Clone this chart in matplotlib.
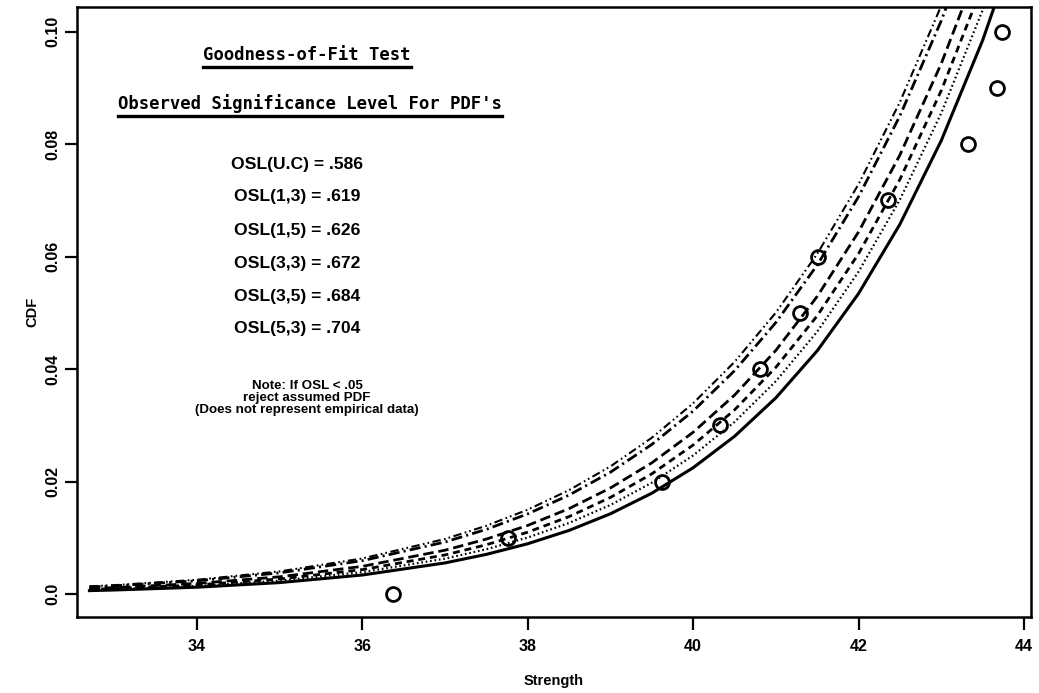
import matplotlib
matplotlib.use("Agg")
import matplotlib.pyplot as plt
from matplotlib.lines import Line2D

plt.rcParams["font.family"] = ["Liberation Sans", "DejaVu Sans"]
plt.rcParams["lines.scale_dashes"] = False

# Strength grid on which the fitted CDFs are tabulated
strength = [32.7, 33.0, 34.0, 35.0, 36.0, 37.0, 37.5, 38.0, 38.5, 39.0,
            39.5, 40.0, 40.5, 41.0, 41.5, 42.0, 42.5, 43.0, 43.5, 44.0]

# Fitted CDF curves (one per assumed PDF)
cdf_dashdotdot = [0.00135, 0.00156, 0.00252, 0.00401, 0.00631, 0.00978, 0.01213,
                  0.01499, 0.01847, 0.02269, 0.02778, 0.03391, 0.04126, 0.05004,
                  0.06049, 0.07288, 0.08749, 0.10463, 0.12465, 0.1479]
cdf_dashdot = [0.00124, 0.00144, 0.00234, 0.00375, 0.00592, 0.00924, 0.01149,
               0.01424, 0.01759, 0.02166, 0.02659, 0.03254, 0.03970, 0.04828,
               0.05850, 0.07066, 0.08504, 0.10196, 0.12177, 0.1448]
cdf_longdash = [0.00097, 0.00113, 0.00187, 0.00305, 0.00491, 0.00778, 0.00976,
                0.01219, 0.01518, 0.01885, 0.02332, 0.02876, 0.03536, 0.04333,
                0.05292, 0.06440, 0.07808, 0.09433, 0.11347, 0.13594]
cdf_dash = [0.00082, 0.00096, 0.00161, 0.00266, 0.00433, 0.00694, 0.00875,
            0.01099, 0.01376, 0.01717, 0.02136, 0.02649, 0.03273, 0.04031,
            0.04948, 0.06052, 0.07374, 0.08954, 0.10823, 0.13030]
cdf_dotted = [0.00071, 0.00084, 0.00142, 0.00236, 0.00388, 0.00628, 0.00795,
              0.01004, 0.01263, 0.01583, 0.01978, 0.02464, 0.03058, 0.03784,
              0.04665, 0.05732, 0.07015, 0.08553, 0.10384, 0.12555]
cdf_solid = [0.00059, 0.00070, 0.00120, 0.00202, 0.00337, 0.00552, 0.00704,
             0.00893, 0.01130, 0.01426, 0.01792, 0.02245, 0.02803, 0.03488,
             0.04325, 0.05343, 0.06576, 0.08064, 0.09846, 0.11967]

# Observed data points
obs_strength = [36.37, 37.76, 39.62, 40.32, 40.81, 41.29, 41.51, 42.36, 43.32, 43.67, 43.73]
obs_cdf = [0.00, 0.01, 0.02, 0.03, 0.04, 0.05, 0.06, 0.07, 0.08, 0.09, 0.10]

x_ticks = [34, 36, 38, 40, 42, 44]
y_ticks = [0.0, 0.02, 0.04, 0.06, 0.08, 0.10]
y_tick_labels = ["0.0", "0.02", "0.04", "0.06", "0.08", "0.10"]

osl_lines = ["OSL(U.C) = .586", "OSL(1,3) = .619", "OSL(1,5) = .626",
             "OSL(3,3) = .672", "OSL(3,5) = .684", "OSL(5,3) = .704"]
note_lines = ["Note: If OSL < .05", "reject assumed PDF",
              "(Does not represent empirical data)"]

W, H = 1039, 693
fig = plt.figure(figsize=(W / 100, H / 100), dpi=100)
ax = fig.add_axes([77 / W, 1 - 617 / H, (1031 - 77) / W, (617 - 7) / H])

curves = [
    (cdf_dashdotdot, (0, (6, 2.5, 1.2, 2.2, 1.2, 2.5)), 1.5),
    (cdf_dashdot, (0, (8, 3, 1.5, 3)), 2.0),
    (cdf_longdash, (0, (7.5, 3.5)), 2.0),
    (cdf_dash, (0, (5, 3.5)), 2.0),
    (cdf_dotted, (0, (1.2, 2.0)), 1.6),
    (cdf_solid, "-", 2.2),
]
for ys, ls, lw in curves:
    ax.plot(strength, ys, color="black", linestyle=ls, linewidth=lw)

ax.plot(obs_strength, obs_cdf, linestyle="none", marker="o", markersize=10,
        markerfacecolor="none", markeredgecolor="black", markeredgewidth=2.0)

ax.set_xlim(32.55, 44.085)
ax.set_ylim(-0.0041, 0.1044)
ax.set_xticks(x_ticks)
ax.set_xticklabels([str(t) for t in x_ticks], fontsize=11.5, fontweight="bold")
ax.set_yticks(y_ticks)
ax.set_yticklabels(y_tick_labels, fontsize=11.5, fontweight="bold",
                   rotation=90, va="center")
ax.tick_params(axis="x", direction="out", length=9, width=1.6, pad=7)
ax.tick_params(axis="y", direction="out", length=9, width=1.6, pad=3)
for sp in ax.spines.values():
    sp.set_linewidth(1.8)

ax.set_xlabel("Strength", fontsize=10.5, fontweight="bold", labelpad=14)
ax.set_ylabel("CDF", fontsize=10.5, fontweight="bold", labelpad=4)

cx = 307 / W
mono = ["DejaVu Sans Mono"]
t1 = fig.text(cx, 1 - 55 / H, "Goodness-of-Fit Test", family=mono,
              fontweight="bold", fontsize=12.4, ha="center", va="center")
t2 = fig.text(cx + 3 / W, 1 - 104 / H, "Observed Significance Level For PDF's",
              family=mono, fontweight="bold", fontsize=12.4, ha="center",
              va="center")

osl_y = [164, 197, 230, 263, 296, 329]
for txt, py in zip(osl_lines, osl_y):
    fig.text(cx - 10 / W, 1 - py / H, txt, fontsize=12.6, fontweight="bold",
             ha="center", va="center")

note_y = [386, 398, 410]
for txt, py in zip(note_lines, note_y):
    fig.text(cx, 1 - py / H, txt, fontsize=9.6, fontweight="bold",
             ha="center", va="center")

# underline the two headings
fig.canvas.draw()
renderer = fig.canvas.get_renderer()
inv = fig.transFigure.inverted()
for t in (t1, t2):
    bb = t.get_window_extent(renderer)
    (x0, y0), (x1, _) = inv.transform([(bb.x0, bb.y0 - 3), (bb.x1, bb.y0 - 3)])
    fig.add_artist(Line2D([x0, x1], [y0, y0], transform=fig.transFigure,
                          color="black", linewidth=2.4))

fig.savefig("out.png", dpi=100)
